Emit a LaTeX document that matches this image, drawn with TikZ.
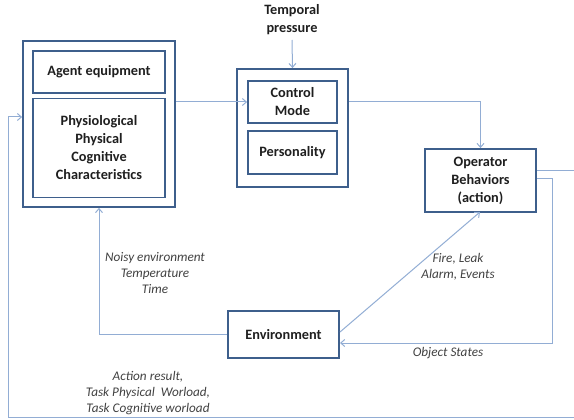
\documentclass[tikz,border=0pt]{standalone}
\usepackage{fontspec}
\setmainfont{Carlito}
\usetikzlibrary{arrows.meta}
\definecolor{boxblue}{HTML}{3E5F8C}
\definecolor{linkblue}{HTML}{92ADD4}
\definecolor{txt}{HTML}{1F1F1F}
\tikzset{
  box/.style={draw=boxblue, line width=1.8pt, fill=white, inner sep=0pt, align=center,
    text=txt, font=\bfseries\fontsize{14.3}{18}\selectfont},
  frame/.style={draw=boxblue, line width=1.8pt, inner sep=0pt},
  link/.style={draw=linkblue, line width=1pt},
  tip/.style={-{Straight Barb[length=4pt,width=7pt]}},
  lbl/.style={align=center, text=txt!85, font=\itshape\fontsize{13.2}{16}\selectfont, inner sep=0pt}
}
\begin{document}
\begin{tikzpicture}[x=1pt,y=-1pt]
\useasboundingbox (0,0) rectangle (574,420);
% frames
\node[frame, minimum width=152pt, minimum height=166pt] (outerA) at (99,124) {};
\node[frame, minimum width=111pt, minimum height=118pt] (outerC) at (292.5,128) {};
% boxes
\node[box, minimum width=132pt, minimum height=42pt] (agent) at (99,72) {Agent equipment};
\node[box, minimum width=132pt, minimum height=99pt] (phys) at (99,148) {Physiological\\Physical\\Cognitive\\Characteristics};
\node[box, minimum width=89pt, minimum height=42pt] (ctrl) at (292.5,102) {Control\\Mode};
\node[box, minimum width=89pt, minimum height=43pt] (pers) at (292.5,152.5) {Personality};
\node[box, minimum width=111pt, minimum height=63pt] (oper) at (480.5,180.5) {Operator\\Behaviors\\(action)};
\node[box, minimum width=111pt, minimum height=47pt] (env) at (283.5,334.5) {Environment};
\node[align=center, text=txt, font=\bfseries\fontsize{14.3}{18}\selectfont, inner sep=0pt] (temporal) at (292,20) {Temporal\\pressure};
% labels
\node[lbl] (noisy) at (155,273) {Noisy environment\\Temperature\\Time};
\node[lbl] (fire) at (458,267) {Fire, Leak\\Alarm, Events};
\node[lbl] (objst) at (448,353) {Object States};
\node[lbl] (actres) at (148,393) {Action result,\\Task Physical\ \ Worload,\\Task Cognitive worload};
% coordinates
\coordinate (tpend) at (292,40);
\coordinate (opr1) at (574,171);
\coordinate (br) at (574,417);
\coordinate (bl) at (8,417);
\coordinate (tl) at (8,117);
\coordinate (opr2) at (552,179);
\coordinate (envr) at (340,343);
\coordinate (envd) at (340,332);
\coordinate (opb) at (480,212);
% connectors
\draw[link, tip] (temporal.south |- tpend) -- (outerC.north);
\draw[link, tip] (outerA.east |- ctrl.west) -- (ctrl.west);
\draw[link, tip] (outerC.east |- ctrl.west) -| (oper.north);
\draw[link] (oper.east |- opr1) -- (opr1) -- (br);
\draw[link, tip] (br) -- (bl) -- (tl) -- (outerA.west |- tl);
\draw[link, tip] (oper.east |- opr2) -- (opr2) |- (envr);
\draw[link, tip] (env.west) -| (outerA.south);
\draw[link, tip] (envd) -- (opb);
\end{tikzpicture}
\end{document}
